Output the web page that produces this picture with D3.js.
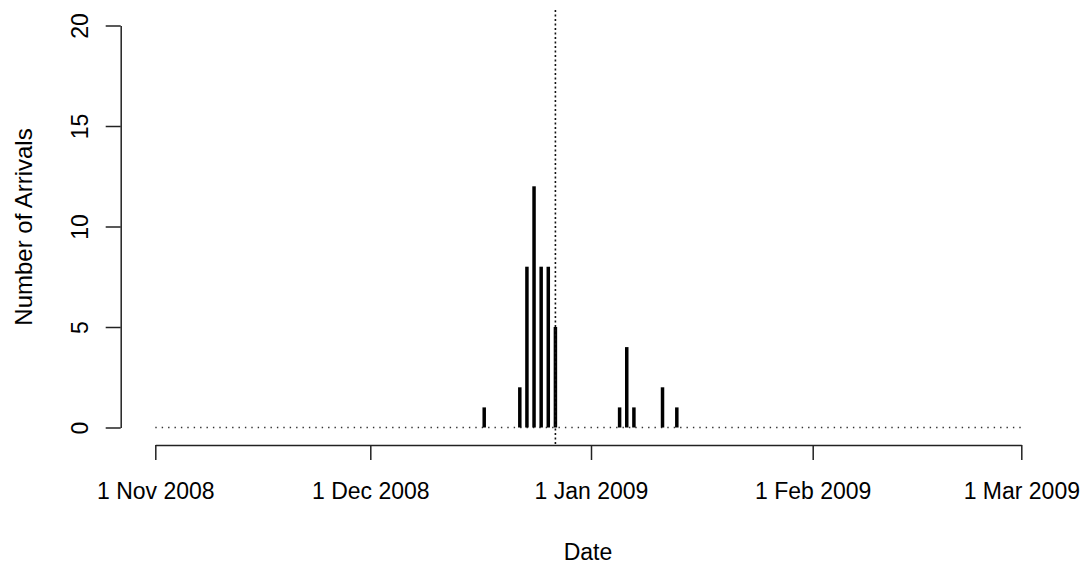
<!DOCTYPE html>
<html>
<head>
<meta charset="utf-8">
<script src="https://cdn.jsdelivr.net/npm/d3@7"></script>
<style>
  html, body { margin: 0; padding: 0; background: #fff; }
  svg { display: block; font-family: "Liberation Sans", Arial, sans-serif; }
</style>
</head>
<body>
<svg id="chart" width="1083" height="565"></svg>
<script>
// arrivals per day
const arrivalDates = ["2008-12-17", "2008-12-22", "2008-12-23", "2008-12-24", "2008-12-25",
  "2008-12-26", "2008-12-27", "2009-01-05", "2009-01-06", "2009-01-07", "2009-01-11", "2009-01-13"];
const arrivalCounts = [1, 2, 8, 12, 8, 8, 5, 1, 4, 1, 2, 1];

const xTickDates = ["2008-11-01", "2008-12-01", "2009-01-01", "2009-02-01", "2009-03-01"];
const xTickLabels = ["1 Nov 2008", "1 Dec 2008", "1 Jan 2009", "1 Feb 2009", "1 Mar 2009"];
const yTicks = [0, 5, 10, 15, 20];
const markerDate = "2008-12-27";

const parse = d3.utcParse("%Y-%m-%d");
const svg = d3.select("#chart");
const FONT = 23;
const INK = "#000";

// the month ticks in the picture are not quite evenly spaced, so the
// time scale is piecewise across the month boundaries
const x = d3.scaleUtc()
  .domain(xTickDates.map(parse))
  .range([155.3, 370.3, 591, 812.7, 1021.3]);
const y = d3.scaleLinear().domain([0, 20]).range([427.5, 25.5]);

const plotTop = 10, plotBottom = 444, axisX = 120.7, axisY = 445;

// x axis (R style: line spans first..last tick)
const xAxis = svg.append("g").attr("transform", `translate(0,${axisY})`)
  .call(d3.axisBottom(x)
    .tickValues(xTickDates.map(parse))
    .tickSize(15).tickSizeOuter(0).tickPadding(23)
    .tickFormat((d, i) => xTickLabels[i]));
xAxis.select(".domain").attr("stroke", "#222").attr("stroke-width", 1.5);
xAxis.selectAll("line").attr("stroke", "#222").attr("stroke-width", 1.5);
xAxis.selectAll("text").attr("fill", INK).attr("font-size", FONT)
  .attr("font-family", "Liberation Sans, Arial, sans-serif");

// y axis
const yAxis = svg.append("g").attr("transform", `translate(${axisX},0)`)
  .call(d3.axisLeft(y).tickValues(yTicks).tickSize(15).tickSizeOuter(0).tickFormat(d3.format("d")));
yAxis.select(".domain").attr("stroke", "#222").attr("stroke-width", 1.5);
yAxis.selectAll("line").attr("stroke", "#222").attr("stroke-width", 1.5);
yAxis.selectAll("text").remove();
yAxis.selectAll(".tick").append("text")
  .attr("transform", "translate(-33,0) rotate(-90)")
  .attr("text-anchor", "middle")
  .attr("fill", INK).attr("font-size", FONT)
  .attr("font-family", "Liberation Sans, Arial, sans-serif")
  .text(d => d);

// dotted zero line across the date range
svg.append("line")
  .attr("x1", x(parse(xTickDates[0]))).attr("x2", x(parse(xTickDates[xTickDates.length - 1])))
  .attr("y1", y(0)).attr("y2", y(0))
  .attr("stroke", "#333").attr("stroke-width", 1.3)
  .attr("stroke-dasharray", "1.4,5");

// spikes
svg.append("g").selectAll("line")
  .data(arrivalDates.map((d, i) => ({ date: parse(d), n: arrivalCounts[i] })))
  .join("line")
  .attr("x1", d => x(d.date)).attr("x2", d => x(d.date))
  .attr("y1", y(0)).attr("y2", d => y(d.n))
  .attr("stroke", INK).attr("stroke-width", 3.5);

// vertical marker
svg.append("line")
  .attr("x1", x(parse(markerDate))).attr("x2", x(parse(markerDate)))
  .attr("y1", plotTop).attr("y2", axisY)
  .attr("stroke", "#111").attr("stroke-width", 1.6)
  .attr("stroke-dasharray", "2,2.5");

// axis titles
svg.append("text")
  .attr("x", 588).attr("y", 560)
  .attr("text-anchor", "middle").attr("font-size", FONT).attr("fill", INK)
  .text("Date");
svg.append("text")
  .attr("transform", `translate(32,${(plotTop + plotBottom) / 2}) rotate(-90)`)
  .attr("text-anchor", "middle").attr("font-size", 24).attr("fill", INK)
  .text("Number of Arrivals");
</script>
</body>
</html>
